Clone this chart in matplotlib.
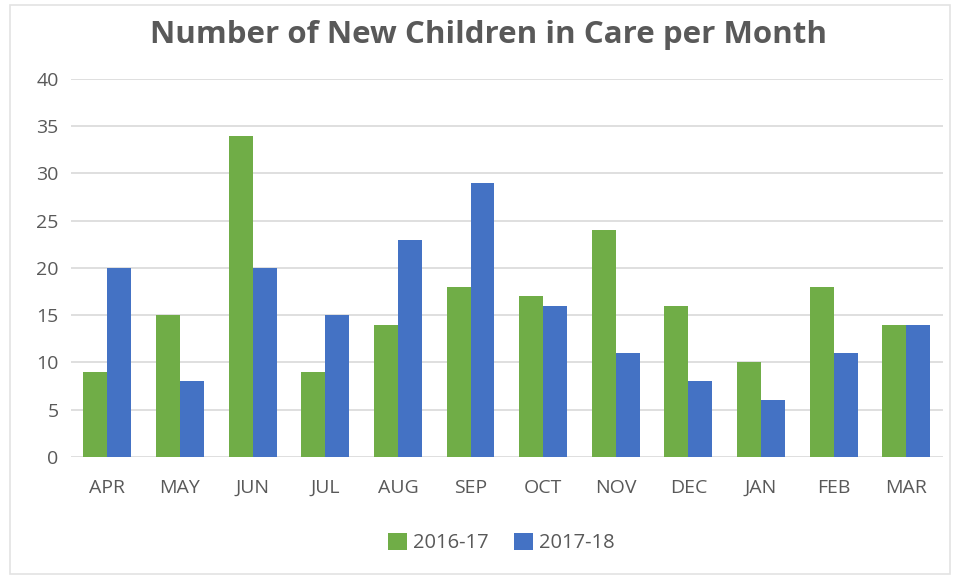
import matplotlib.pyplot as plt
import numpy as np
from matplotlib.patches import Rectangle

months = ['APR', 'MAY', 'JUN', 'JUL', 'AUG', 'SEP', 'OCT', 'NOV', 'DEC', 'JAN', 'FEB', 'MAR']
y2016 = [9, 15, 34, 9, 14, 18, 17, 24, 16, 10, 18, 14]
y2017 = [20, 8, 20, 15, 23, 29, 16, 11, 8, 6, 11, 14]
yticks = [0, 5, 10, 15, 20, 25, 30, 35, 40]

green = '#70AD47'
blue = '#4472C4'
grey = '#595959'

plt.rcParams['font.family'] = ['Open Sans', 'DejaVu Sans']

fig = plt.figure(figsize=(9.55, 5.79), dpi=100)
ax = fig.add_axes([0.0744, 0.2107, 0.9126, 0.6529])

x = np.arange(len(months))
w = 0.33
ax.bar(x - w / 2, y2016, w, color=green, label='2016-17', zorder=2)
ax.bar(x + w / 2, y2017, w, color=blue, label='2017-18', zorder=2)

ax.set_xlim(-0.5, len(months) - 0.5)
ax.set_ylim(0, 40)
ax.set_yticks(yticks)
ax.set_xticks(x)
ax.set_xticklabels(months)
ax.tick_params(axis='both', length=0, labelsize=14, labelcolor=grey)
ax.tick_params(axis='x', pad=16)
ax.tick_params(axis='y', pad=9)
ax.grid(axis='y', color='#D9D9D9', linewidth=1.2, zorder=0)
for s in ax.spines.values():
    s.set_visible(False)

fig.text(0.511, 0.94, 'Number of New Children in Care per Month',
         ha='center', va='center', fontsize=22.5, fontweight='bold', color=grey)

ax.legend(loc='center', bbox_to_anchor=(0.525, 0.062), bbox_transform=fig.transFigure,
          ncol=2, frameon=False, fontsize=14.5, labelcolor=grey,
          handlelength=0.9, handleheight=0.9, handletextpad=0.3, columnspacing=1.3)

# thin frame round the whole chart
fig.patches.append(Rectangle((0.01, 0.008), 0.985, 0.983, transform=fig.transFigure,
                             fill=False, edgecolor='#E3E3E3', linewidth=1.2))

fig.savefig('out.png', dpi=100)
